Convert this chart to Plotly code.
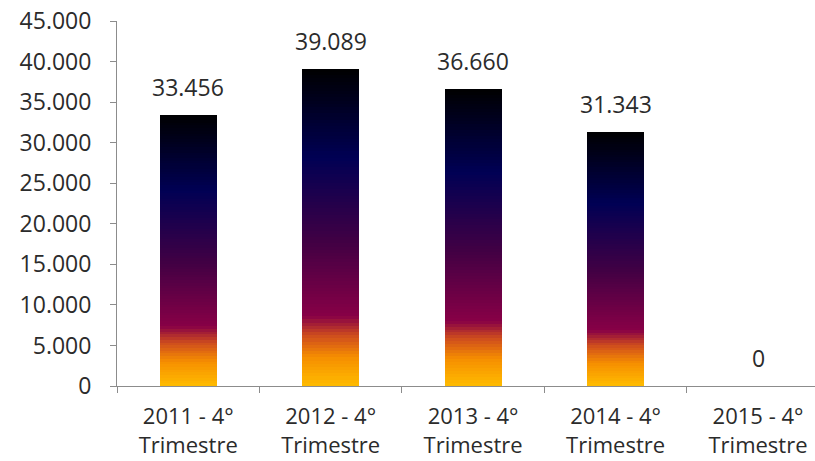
import plotly.graph_objects as go

categories = ["2011 - 4°<br>Trimestre", "2012 - 4°<br>Trimestre", "2013 - 4°<br>Trimestre",
              "2014 - 4°<br>Trimestre", "2015 - 4°<br>Trimestre"]
values = [33456, 39089, 36660, 31343, 0]
y_ticks = [0, 5000, 10000, 15000, 20000, 25000, 30000, 35000, 40000, 45000]

# gradient stops (fraction of bar height from bottom, colour)
stops = [(0.0, (255, 188, 0)), (0.09, (246, 142, 0)), (0.16, (205, 75, 30)),
         (0.22, (135, 0, 70)), (0.46, (64, 0, 68)), (0.72, (0, 0, 84)), (1.0, (0, 0, 0))]


def colour_at(f):
    for (f0, c0), (f1, c1) in zip(stops[:-1], stops[1:]):
        if f0 <= f <= f1:
            t = (f - f0) / (f1 - f0)
            return "rgb(%d,%d,%d)" % tuple(round(a + (b - a) * t) for a, b in zip(c0, c1))
    return "rgb(0,0,0)"


N = 100
FONT = "Open Sans"
FS = 23
TXT = "#2b2b2b"
AX = "#8c8c8c"

fig = go.Figure()
for i in range(N):
    fig.add_trace(go.Bar(
        x=categories, y=[v / N for v in values], width=0.4,
        marker=dict(color=colour_at((i + 0.5) / N), line=dict(width=0)),
        showlegend=False, hoverinfo="skip"))

for c, v in zip(categories, values):
    fig.add_annotation(x=c, y=v, text=f"{v:,}".replace(",", "."), showarrow=False,
                       yanchor="bottom", yshift=10, font=dict(family=FONT, size=FS, color=TXT))

fig.update_layout(
    barmode="stack", bargap=0.6,
    width=815, height=461, margin=dict(l=117, r=0, t=21, b=75),
    paper_bgcolor="white", plot_bgcolor="white",
    separators=",.",
    font=dict(family=FONT, size=FS, color=TXT),
    xaxis=dict(range=[-0.5, 4.4], showline=True, linecolor=AX, linewidth=1,
               ticks="outside", tickson="boundaries", ticklen=6, tickcolor=AX,
               showgrid=False, automargin=False, ticklabelstandoff=11,
               ticklabeloverflow="allow",
               tickfont=dict(family=FONT, size=22, color=TXT)),
    yaxis=dict(range=[0, 45000], tickvals=y_ticks, tickformat=",d", showline=True,
               linecolor=AX, linewidth=1, ticks="outside", ticklen=6, tickcolor=AX,
               showgrid=False, zeroline=False, ticklabelstandoff=14, automargin=False,
               ticklabeloverflow="allow",
               tickfont=dict(family=FONT, size=FS, color=TXT)),
)

fig.write_html("out.html", config={"displayModeBar": False},
               post_script="document.body.style.margin='0';document.body.style.overflow='hidden';")
